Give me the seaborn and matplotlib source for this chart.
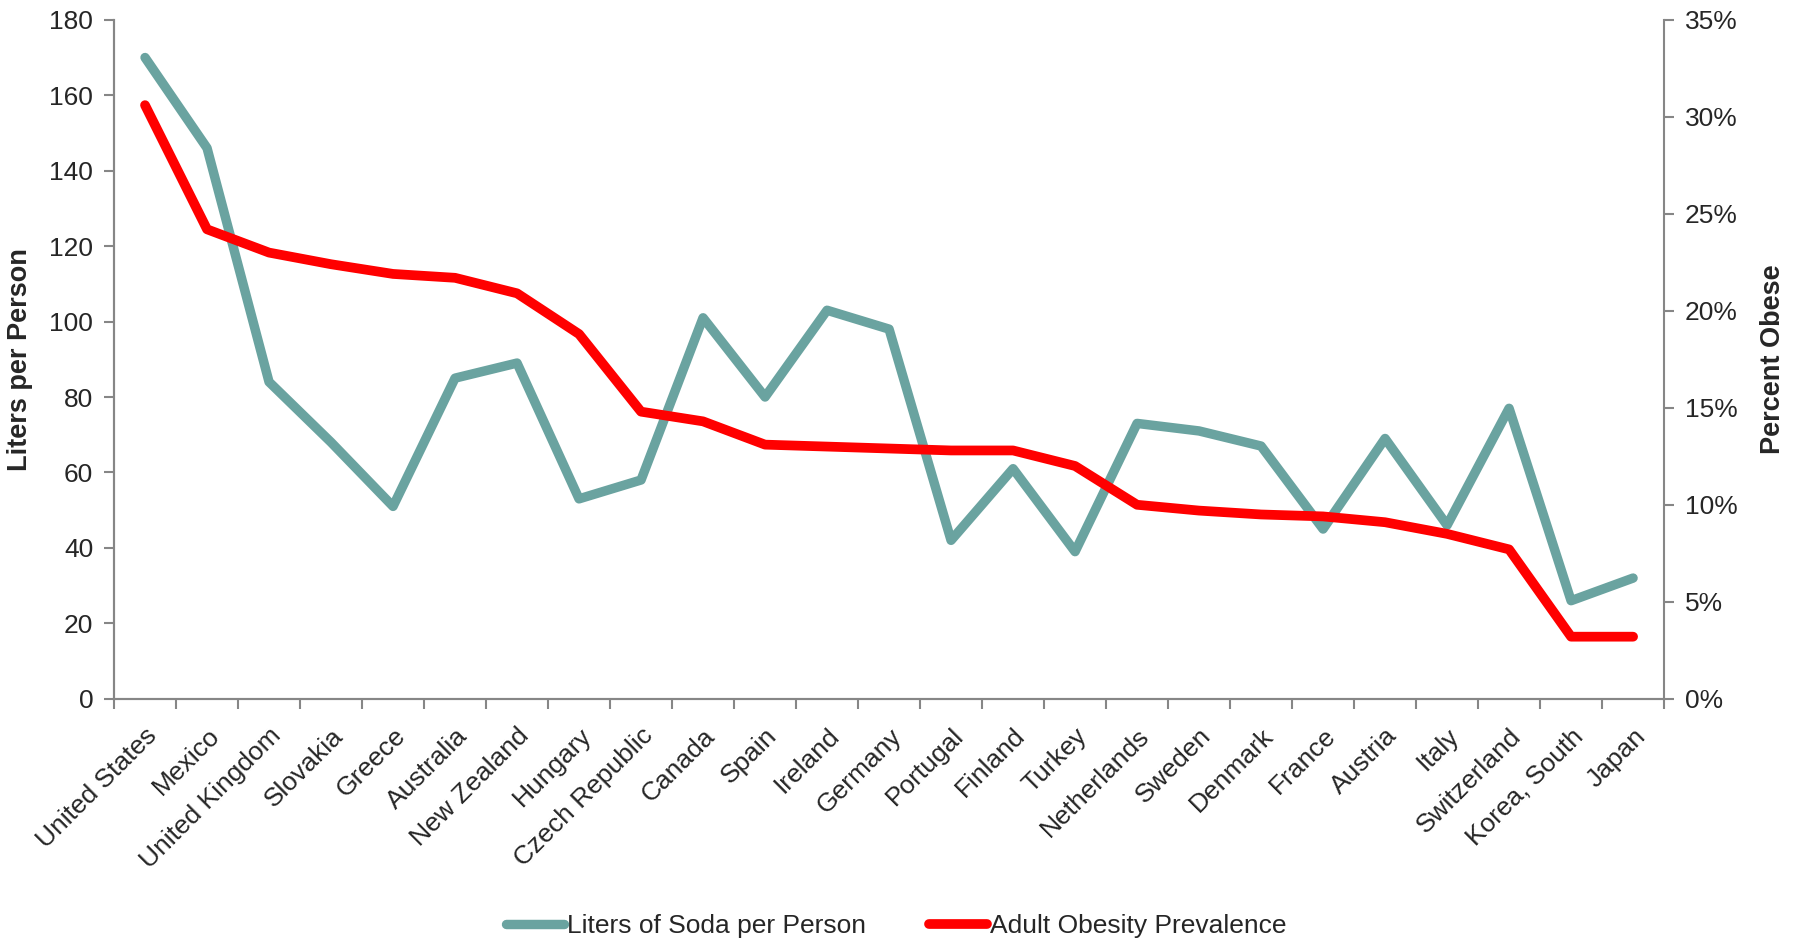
import numpy as np
import matplotlib
matplotlib.use("Agg")
import matplotlib.pyplot as plt
import matplotlib.transforms as mtransforms
from matplotlib.ticker import FuncFormatter, FixedLocator
import pandas as pd
import seaborn as sns

sns.set_style("white")
plt.rcParams['font.family'] = ['Liberation Sans', 'DejaVu Sans']

countries = ["United States", "Mexico", "United Kingdom", "Slovakia", "Greece",
             "Australia", "New Zealand", "Hungary", "Czech Republic", "Canada",
             "Spain", "Ireland", "Germany", "Portugal", "Finland", "Turkey",
             "Netherlands", "Sweden", "Denmark", "France", "Austria", "Italy",
             "Switzerland", "Korea, South", "Japan"]
soda = [170, 146, 84, 68, 51, 85, 89, 53, 58, 101, 80, 103, 98, 42, 61, 39,
        73, 71, 67, 45, 69, 46, 77, 26, 32]
obese = [30.6, 24.2, 23.0, 22.4, 21.9, 21.7, 20.9, 18.8, 14.8, 14.3, 13.1,
         13.0, 12.9, 12.8, 12.8, 12.0, 10.0, 9.7, 9.5, 9.4, 9.1, 8.5, 7.7,
         3.2, 3.2]

df = pd.DataFrame({"country": countries, "soda": soda, "obese": obese})
df["pos"] = np.arange(len(df))

teal = "#6AA3A0"
red = "#FF0000"
gray = "#868686"

fig = plt.figure(figsize=(17.93, 9.43), dpi=100)
ax = fig.add_axes([0.0636, 0.259, 0.8645, 0.72])
ax2 = ax.twinx()

sns.lineplot(data=df, x="pos", y="soda", ax=ax, color=teal, lw=6.8,
             solid_capstyle="round", solid_joinstyle="round",
             label="Liters of Soda per Person", legend=False)
sns.lineplot(data=df, x="pos", y="obese", ax=ax2, color=red, lw=7,
             solid_capstyle="round", solid_joinstyle="round",
             label="Adult Obesity Prevalence", legend=False)

ax.set_xlim(-0.5, len(df) - 0.5)
ax.set_ylim(0, 180)
ax2.set_ylim(0, 35)
ax.set_yticks(np.arange(0, 181, 20))
ax2.set_yticks(np.arange(0, 36, 5))
ax2.yaxis.set_major_formatter(FuncFormatter(lambda v, p: "{:.0f}%".format(v)))

ax.set_xticks(df["pos"])
ax.set_xticklabels(countries, rotation=45, ha="right", va="top",
                   rotation_mode="anchor", fontsize=19)
# nudge the rotated labels a little to the left, like the original
shift = mtransforms.ScaledTranslation(-8 / 100, 3 / 100, fig.dpi_scale_trans)
for lab in ax.get_xticklabels():
    lab.set_transform(lab.get_transform() + shift)
ax.xaxis.set_minor_locator(FixedLocator(np.arange(-0.5, len(df), 1)))
ax.tick_params(axis="x", which="major", length=0, pad=18)
ax.tick_params(axis="x", which="minor", length=7, width=1.5, color=gray,
               direction="out", bottom=True)
ax.tick_params(axis="y", length=7, width=1.5, color=gray, labelsize=19,
               direction="out", left=True, pad=8)
ax2.tick_params(axis="y", length=7, width=1.5, color=gray, labelsize=19,
                direction="out", right=True, pad=8)

for a in (ax, ax2):
    a.grid(False)
    a.spines["top"].set_visible(False)
    for s in ("left", "right", "bottom"):
        a.spines[s].set_color(gray)
        a.spines[s].set_linewidth(1.5)
ax.spines["right"].set_visible(False)

ax.set_xlabel("")
ax.set_ylabel("Liters per Person", fontsize=19.5, fontweight="bold", labelpad=12)
ax2.set_ylabel("Percent Obese", fontsize=19.5, fontweight="bold", labelpad=16)

h1, l1 = ax.get_legend_handles_labels()
h2, l2 = ax2.get_legend_handles_labels()
fig.legend(h1 + h2, l1 + l2, loc="center", bbox_to_anchor=(0.5, 0.018),
           ncol=2, frameon=False, handlelength=2.2, handletextpad=0.1,
           columnspacing=2.4,
           prop={"family": ["Liberation Sans Narrow", "Liberation Sans"], "size": 19})

fig.savefig("out.png", dpi=100)
